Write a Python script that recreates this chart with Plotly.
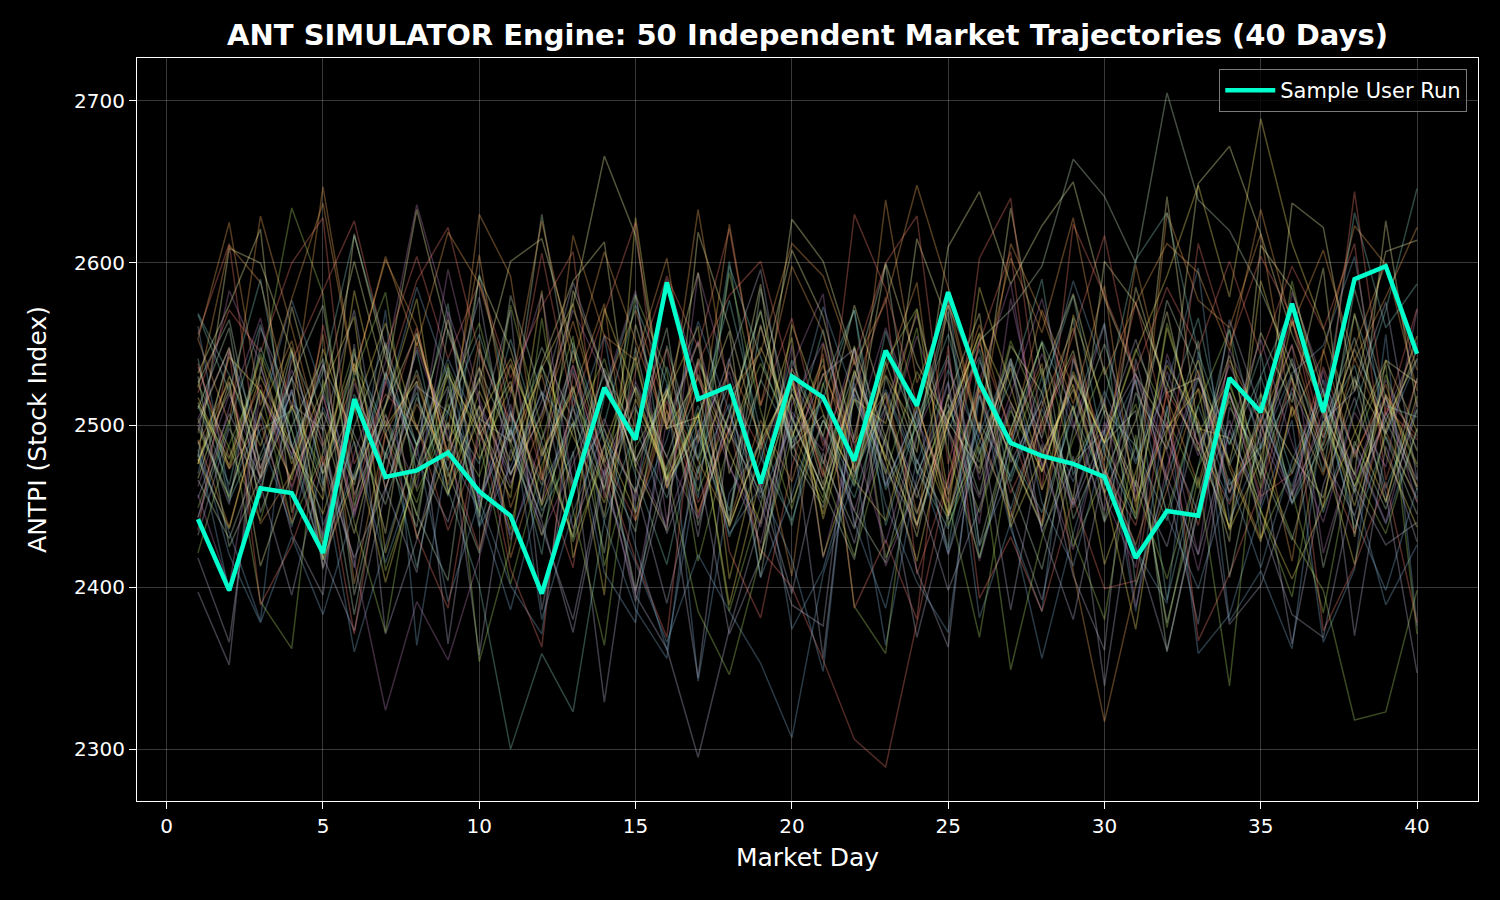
import plotly.graph_objects as go

# market days and the highlighted run
days = list(range(1, 41))
sample_run = [2442, 2398, 2461, 2458, 2421, 2516, 2468, 2472, 2483, 2459,
              2444, 2396, 2460, 2523, 2491, 2588, 2516, 2524, 2464, 2530,
              2517, 2478, 2546, 2512, 2582, 2526, 2489, 2481, 2476, 2468,
              2418, 2447, 2444, 2529, 2508, 2575, 2508, 2590, 2598, 2544]

# background trajectories
traj01 = [2569,2531,2478,2520,2463,2544,2497,2412,2508,2476,2553,2489,2430,2517,2581,2462,2503,2447,2528,2491,
          2559,2470,2512,2438,2496,2547,2465,2521,2580,2483,2442,2509,2566,2475,2519,2452,2498,2537,2461,2510]
traj02 = [2480,2609,2600,2545,2470,2512,2433,2556,2490,2527,2601,2615,2548,2477,2523,2467,2541,2496,2587,2452,
          2503,2468,2539,2483,2610,2644,2587,2623,2650,2578,2531,2498,2649,2672,2618,2556,2510,2462,2503,2541]
traj03 = [2397,2352,2536,2481,2419,2373,2460,2527,2365,2498,2571,2386,2484,2329,2462,2390,2475,2371,2418,2500,
          2356,2523,2471,2369,2445,2502,2386,2488,2407,2361,2541,2463,2377,2511,2480,2365,2463,2517,2458,2347]
traj04 = [2538,2473,2501,2440,2562,2476,2519,2500,2435,2489,2538,2470,2412,2556,2498,2547,2443,2521,2485,2530,
          2468,2522,2579,2408,2466,2551,2497,2440,2541,2489,2576,2499,2438,2520,2456,2470,2536,2482,2518,2493]
traj05 = [2490,2420,2378,2431,2383,2448,2571,2364,2485,2447,2386,2462,2501,2409,2378,2525,2342,2458,2489,2374,
          2411,2478,2364,2468,2527,2381,2440,2356,2433,2497,2385,2512,2359,2383,2448,2503,2366,2411,2556,2376]
traj06 = [2553,2501,2629,2560,2487,2538,2468,2551,2497,2605,2489,2531,2458,2520,2571,2509,2446,2498,2561,2493,
          2537,2473,2534,2588,2444,2522,2491,2571,2523,2478,2599,2517,2463,2540,2502,2549,2487,2548,2600,2521]
traj07 = [2421,2488,2532,2634,2581,2450,2507,2444,2536,2490,2402,2475,2523,2460,2580,2533,2416,2490,2538,2497,
          2455,2549,2418,2463,2509,2477,2552,2505,2425,2470,2513,2446,2512,2559,2430,2473,2519,2462,2517,2474]
traj08 = [2504,2547,2465,2522,2411,2482,2539,2636,2568,2449,2513,2432,2476,2521,2583,2440,2496,2533,2462,2536,
          2581,2437,2492,2555,2497,2416,2489,2544,2498,2562,2455,2502,2420,2547,2500,2456,2534,2459,2506,2551]
traj09 = [2466,2430,2482,2529,2574,2457,2503,2445,2404,2547,2494,2630,2518,2476,2434,2549,2479,2525,2406,2523,
          2478,2436,2546,2498,2574,2527,2481,2437,2512,2440,2486,2577,2532,2463,2487,2541,2484,2530,2452,2529]
traj10 = [2517,2475,2542,2476,2523,2567,2421,2488,2533,2479,2524,2450,2502,2395,2628,2497,2529,2483,2439,2562,
          2507,2466,2441,2515,2444,2490,2535,2471,2533,2489,2445,2560,2498,2492,2447,2405,2450,2495,2540,2496]
traj11 = [2512,2463,2548,2497,2430,2519,2482,2546,2460,2401,2300,2359,2323,2441,2497,2455,2512,2431,2478,2540,
          2493,2455,2520,2472,2436,2501,2468,2530,2451,2509,2487,2441,2512,2458,2530,2470,2515,2436,2493,2455]
traj12 = [2478,2521,2455,2573,2501,2433,2512,2557,2482,2529,2470,2506,2575,2666,2617,2500,2551,2438,2490,2527,
          2463,2548,2492,2431,2519,2470,2541,2483,2522,2458,2503,2570,2485,2437,2514,2481,2455,2528,2495,2547]
traj13 = [2455,2507,2468,2529,2486,2412,2533,2479,2440,2512,2469,2521,2436,2488,2395,2362,2295,2374,2441,2506,
          2460,2519,2473,2438,2503,2542,2477,2515,2449,2496,2532,2468,2420,2497,2451,2523,2480,2444,2508,2466]
traj14 = [2536,2480,2525,2462,2518,2447,2499,2560,2481,2423,2508,2466,2537,2479,2441,2515,2452,2498,2423,2400,
          2355,2306,2289,2378,2467,2521,2458,2500,2543,2472,2438,2520,2489,2451,2502,2566,2479,2433,2511,2491]
traj15 = [2470,2545,2493,2437,2511,2466,2529,2488,2541,2497,2432,2480,2534,2459,2415,2366,2420,2385,2353,2307,
          2408,2468,2522,2476,2534,2491,2448,2510,2465,2521,2476,2540,2497,2453,2506,2462,2528,2484,2439,2497]
traj16 = [2491,2437,2508,2552,2475,2529,2461,2513,2480,2536,2449,2503,2564,2497,2458,2521,2478,2440,2503,2465,
          2532,2489,2520,2446,2505,2562,2493,2538,2410,2317,2401,2460,2523,2477,2430,2512,2469,2541,2496,2453]
traj17 = [2525,2486,2441,2512,2470,2538,2494,2452,2516,2563,2487,2432,2498,2541,2474,2519,2459,2507,2570,2488,
          2452,2516,2470,2533,2497,2446,2509,2472,2531,2489,2547,2505,2461,2524,2480,2431,2398,2318,2323,2398]
traj18 = [2462,2519,2473,2534,2490,2416,2324,2391,2355,2418,2497,2453,2510,2469,2527,2480,2442,2506,2465,2529,
          2491,2447,2512,2568,2497,2455,2514,2476,2423,2502,2459,2533,2481,2537,2494,2452,2509,2466,2528,2485]
traj19 = [2500,2456,2521,2479,2537,2494,2451,2517,2472,2535,2490,2548,2503,2461,2524,2480,2539,2495,2458,2519,
          2476,2533,2489,2445,2508,2552,2571,2598,2664,2641,2600,2705,2639,2620,2583,2538,2492,2547,2503,2462]
traj20 = [2514,2473,2530,2487,2445,2509,2563,2498,2457,2521,2478,2536,2493,2452,2516,2472,2531,2489,2548,2504,
          2460,2523,2481,2439,2502,2557,2514,2471,2530,2489,2545,2592,2648,2579,2689,2612,2560,2497,2453,2518]
traj21 = [2443,2501,2562,2488,2417,2535,2479,2520,2456,2593,2508,2447,2482,2531,2469,2414,2503,2577,2496,2438,
          2525,2571,2460,2499,2543,2418,2487,2552,2509,2463,2528,2392,2474,2559,2485,2520,2446,2510,2571,2646]
traj22 = [2532,2574,2621,2446,2519,2601,2528,2633,2557,2502,2461,2538,2589,2613,2474,2435,2619,2560,2488,2627,
          2601,2540,2478,2615,2563,2496,2634,2530,2581,2507,2462,2641,2495,2428,2611,2584,2520,2469,2626,2511]
traj23 = [2418,2366,2507,2433,2395,2550,2371,2429,2502,2358,2485,2437,2380,2473,2391,2468,2344,2499,2452,2389,
          2376,2531,2487,2410,2363,2528,2447,2392,2481,2339,2466,2425,2502,2377,2401,2459,2523,2370,2487,2428]
traj24 = [2556,2612,2470,2539,2583,2626,2547,2604,2541,2588,2529,2573,2607,2455,2533,2592,2548,2621,2512,2566,
          2487,2540,2600,2629,2476,2551,2607,2460,2624,2580,2533,2585,2547,2601,2543,2598,2559,2612,2466,2528]
traj25 = [2482,2434,2379,2545,2468,2360,2425,2487,2391,2454,2401,2371,2518,2440,2386,2356,2497,2433,2462,2417,
          2348,2526,2451,2403,2372,2519,2436,2385,2541,2468,2423,2390,2545,2379,2410,2362,2507,2443,2398,2461]
traj26 = [2523,2611,2588,2509,2647,2533,2602,2561,2478,2630,2592,2466,2617,2555,2540,2603,2489,2624,2512,2598,
          2557,2481,2639,2526,2574,2495,2612,2568,2513,2586,2449,2631,2577,2560,2618,2505,2544,2623,2599,2534]
traj27 = [2449,2503,2391,2362,2528,2440,2372,2488,2538,2354,2425,2566,2447,2364,2510,2471,2385,2346,2419,2492,
          2541,2388,2359,2513,2453,2369,2483,2535,2431,2380,2494,2375,2468,2339,2520,2459,2384,2487,2537,2371]
traj28 = [2495,2583,2538,2460,2519,2443,2527,2481,2596,2516,2464,2508,2571,2530,2479,2437,2594,2525,2462,2549,
          2418,2495,2560,2503,2460,2527,2588,2474,2531,2456,2412,2544,2488,2520,2453,2582,2526,2469,2517,2452]
traj29 = [2530,2425,2468,2546,2497,2383,2483,2437,2559,2504,2490,2443,2512,2421,2548,2465,2494,2439,2562,2486,
          2506,2447,2415,2493,2570,2426,2497,2551,2442,2489,2509,2360,2450,2518,2473,2429,2500,2554,2492,2445]
traj30 = [2476,2542,2521,2486,2454,2583,2499,2527,2468,2512,2435,2535,2575,2490,2446,2519,2561,2405,2487,2530,
          2442,2516,2501,2571,2457,2525,2482,2438,2568,2512,2453,2498,2522,2435,2479,2564,2509,2450,2519,2476]
traj31 = [2541,2453,2497,2509,2426,2470,2532,2487,2575,2438,2499,2420,2551,2492,2459,2536,2478,2601,2480,2441,
          2503,2462,2558,2496,2424,2540,2483,2446,2507,2563,2401,2467,2529,2488,2544,2451,2489,2568,2512,2505]
traj32 = [2467,2526,2413,2470,2508,2463,2549,2430,2485,2592,2547,2481,2524,2443,2562,2498,2505,2558,2417,2535,
          2493,2574,2509,2455,2517,2569,2440,2503,2546,2466,2585,2520,2529,2477,2557,2514,2597,2431,2540,2526]
traj33 = [2504,2451,2560,2513,2497,2571,2460,2524,2508,2579,2469,2515,2588,2532,2477,2523,2431,2540,2596,2485,
          2531,2547,2463,2509,2420,2483,2539,2434,2476,2497,2553,2490,2446,2565,2509,2457,2502,2521,2576,2467]
traj34 = [2435,2546,2389,2426,2481,2371,2495,2432,2387,2501,2411,2363,2532,2475,2417,2369,2538,2422,2381,2474,
          2544,2387,2429,2380,2549,2393,2431,2385,2455,2399,2404,2523,2367,2408,2460,2529,2373,2413,2465,2378]
traj35 = [2561,2458,2505,2577,2521,2466,2513,2585,2529,2437,2474,2520,2499,2555,2446,2491,2564,2508,2455,2500,
          2573,2517,2462,2509,2581,2425,2470,2516,2589,2533,2478,2524,2597,2441,2486,2532,2549,2604,2494,2540]
traj36 = [2488,2527,2439,2470,2556,2402,2495,2531,2463,2552,2418,2484,2520,2575,2441,2509,2466,2538,2493,2407,
          2550,2471,2518,2436,2579,2497,2443,2512,2560,2474,2426,2488,2534,2459,2503,2416,2547,2480,2525,2462]
traj37 = [2512,2479,2544,2497,2426,2530,2582,2459,2501,2468,2537,2491,2555,2413,2486,2522,2470,2594,2509,2448,
          2526,2463,2539,2572,2484,2418,2497,2551,2476,2513,2442,2563,2495,2527,2461,2589,2506,2470,2433,2498]
traj38 = [2457,2400,2519,2482,2538,2445,2506,2461,2570,2514,2429,2491,2537,2468,2396,2503,2552,2475,2427,2508,
          2484,2547,2413,2462,2526,2439,2578,2490,2451,2517,2388,2474,2531,2458,2493,2550,2421,2486,2440,2515]
traj39 = [2526,2565,2473,2530,2412,2499,2551,2487,2524,2443,2580,2519,2462,2535,2494,2560,2438,2508,2571,2482,
          2449,2529,2599,2470,2513,2457,2538,2492,2566,2441,2520,2485,2552,2406,2497,2538,2471,2584,2517,2460]
traj40 = [2479,2436,2508,2466,2547,2489,2403,2472,2531,2496,2455,2583,2418,2487,2542,2461,2507,2389,2468,2519,
          2445,2534,2478,2416,2503,2556,2437,2481,2525,2459,2374,2496,2540,2473,2428,2511,2449,2569,2482,2437]
traj41 = [2568,2521,2590,2486,2533,2617,2548,2471,2509,2556,2493,2537,2465,2501,2574,2526,2455,2598,2542,2489,
          2516,2571,2438,2503,2556,2482,2527,2590,2469,2514,2602,2631,2545,2488,2530,2573,2507,2631,2560,2587]
traj42 = [2501,2548,2467,2512,2459,2618,2542,2497,2565,2494,2527,2451,2583,2532,2478,2519,2594,2470,2527,2608,
          2567,2491,2600,2538,2502,2473,2549,2520,2454,2601,2575,2526,2484,2543,2467,2637,2622,2521,2607,2614]
traj43 = [2432,2498,2463,2395,2477,2418,2461,2409,2522,2455,2497,2441,2372,2468,2512,2433,2489,2541,2461,2396,
          2483,2427,2508,2461,2398,2449,2512,2435,2380,2472,2425,2361,2447,2503,2441,2383,2369,2462,2426,2440]
traj44 = [2520,2571,2545,2600,2628,2454,2526,2589,2622,2544,2502,2606,2511,2569,2625,2461,2538,2580,2601,2527,
          2469,2630,2584,2513,2452,2603,2640,2495,2556,2617,2525,2466,2612,2549,2604,2567,2492,2644,2506,2572]
traj45 = [2485,2397,2461,2522,2438,2490,2415,2473,2535,2453,2509,2380,2446,2498,2425,2361,2472,2513,2406,2457,
          2519,2440,2387,2479,2421,2495,2541,2452,2413,2486,2528,2444,2399,2467,2412,2478,2522,2460,2389,2426]
traj46 = [2553,2625,2512,2578,2637,2531,2604,2549,2619,2587,2520,2626,2538,2607,2552,2498,2633,2519,2545,2612,
          2592,2537,2576,2648,2585,2520,2603,2557,2628,2531,2575,2612,2594,2546,2633,2561,2608,2540,2579,2622]
traj47 = [2498,2455,2522,2439,2483,2547,2410,2468,2513,2446,2574,2497,2428,2480,2539,2467,2508,2385,2451,2526,
          2472,2419,2493,2560,2438,2487,2349,2430,2491,2536,2463,2405,2474,2515,2447,2394,2502,2458,2531,2484]
traj48 = [2443,2511,2566,2487,2432,2526,2470,2548,2493,2455,2519,2581,2462,2504,2453,2590,2529,2474,2437,2512,
          2551,2488,2427,2495,2540,2466,2519,2578,2501,2447,2531,2484,2410,2496,2553,2489,2440,2508,2474,2571]
traj49 = [2510,2560,2446,2499,2541,2395,2482,2534,2471,2421,2507,2463,2546,2489,2398,2475,2521,2441,2584,2504,
          2460,2417,2530,2478,2442,2518,2463,2411,2497,2550,2488,2378,2456,2520,2469,2531,2412,2490,2448,2509]
traj50 = [2476,2530,2487,2548,2417,2468,2512,2578,2458,2504,2541,2485,2431,2572,2520,2466,2506,2437,2492,2554,
          2419,2478,2531,2496,2446,2585,2524,2460,2512,2414,2471,2537,2503,2436,2589,2528,2483,2414,2497,2555]

trajectories = [traj01, traj02, traj03, traj04, traj05, traj06, traj07, traj08, traj09, traj10,
                traj11, traj12, traj13, traj14, traj15, traj16, traj17, traj18, traj19, traj20,
                traj21, traj22, traj23, traj24, traj25, traj26, traj27, traj28, traj29, traj30,
                traj31, traj32, traj33, traj34, traj35, traj36, traj37, traj38, traj39, traj40,
                traj41, traj42, traj43, traj44, traj45, traj46, traj47, traj48, traj49, traj50]

# matplotlib dark_background colour cycle, drawn faint
cycle = ['141,211,199', '254,255,179', '191,187,217', '250,129,116', '129,177,210',
         '253,180,98', '179,222,105', '188,130,189', '204,235,196', '255,237,111']

figData = []
for i, traj in enumerate(trajectories):
    figData.append(go.Scatter(x=days, y=traj, mode='lines', showlegend=False, hoverinfo='skip',
                              line=dict(color='rgba(%s,0.33)' % cycle[i % 10], width=1.5)))
figData.append(go.Scatter(x=days, y=sample_run, mode='lines', name='Sample User Run',
                          line=dict(color='#00ffcc', width=4.5)))

font = 'DejaVu Sans, Arial, sans-serif'
grid = 'rgba(255,255,255,0.22)'
layout = dict()
layout['title'] = dict(text='<b>ANT SIMULATOR Engine: 50 Independent Market Trajectories (40 Days)</b>',
                       x=0.5, xref='paper', y=0.961, yref='container', yanchor='middle',
                       font=dict(family=font, size=29, color='white'))
layout['xaxis'] = dict(title=dict(text='Market Day', font=dict(size=25), standoff=11),
                       range=[-0.95, 41.95], tickvals=[0, 5, 10, 15, 20, 25, 30, 35, 40],
                       showgrid=True, gridcolor=grid, zeroline=False,
                       showline=True, linecolor='white', linewidth=1.2, mirror=True,
                       ticks='outside', ticklen=7, tickcolor='white', tickfont=dict(size=20))
layout['yaxis'] = dict(title=dict(text='ANTPI (Stock Index)', font=dict(size=25), standoff=20),
                       range=[2268, 2726.5], tickvals=[2300, 2400, 2500, 2600, 2700],
                       showgrid=True, gridcolor=grid, zeroline=False,
                       showline=True, linecolor='white', linewidth=1.2, mirror=True,
                       ticks='outside', ticklen=7, tickcolor='white', tickfont=dict(size=20))
layout['legend'] = dict(x=0.992, y=0.985, xanchor='right', yanchor='top', itemwidth=50,
                        bgcolor='rgba(0,0,0,0.8)', bordercolor='#7a7a7a', borderwidth=1,
                        font=dict(size=21, color='white'))
layout['paper_bgcolor'] = 'black'
layout['plot_bgcolor'] = 'black'
layout['font'] = dict(family=font, color='white')
layout['margin'] = dict(l=137, r=22, t=58, b=99)
layout['width'] = 1500
layout['height'] = 900

fig = go.Figure(data=figData, layout=layout)
fig.write_html('out.html', config={'displayModeBar': False},
               post_script="document.body.style.margin='0';document.body.style.background='black';")
